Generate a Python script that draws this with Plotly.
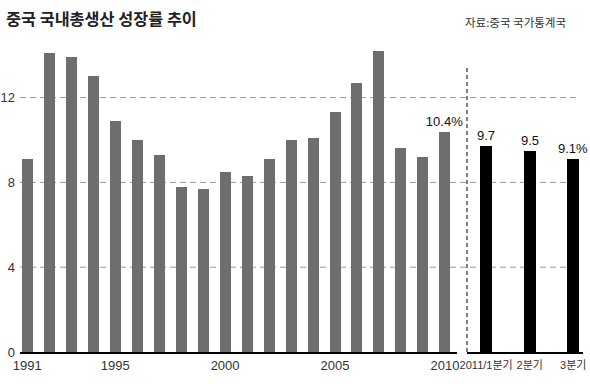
import plotly.graph_objects as go

years = [str(y) for y in range(1991, 2011)]
growth = [9.1, 14.1, 13.9, 13.0, 10.9, 10.0, 9.3, 7.8, 7.7, 8.5, 8.3, 9.1, 10.0, 10.1, 11.3, 12.7, 14.2, 9.6, 9.2, 10.4]
year_labels = ["" for _ in years[:-1]] + ["10.4%"]
year_ticks = ["1991", "1995", "2000", "2005", "2010"]

quarters = ["2011/1분기", "2분기", "3분기"]
q_growth = [9.7, 9.5, 9.1]
q_labels = ["9.7", "9.5", "9.1%"]

y_ticks = [0, 4, 8, 12]

W, H = 590, 384
T, B = 34, 32
PH = H - T - B
NUM = "Liberation Sans, Arial, Noto Sans CJK KR, sans-serif"

fig = go.Figure()
fig.add_trace(go.Bar(
    x=years, y=growth, xaxis="x", yaxis="y",
    marker=dict(color="#6e6e6e", line=dict(width=0)),
    width=0.5, text=year_labels, textposition="outside",
    constraintext="none", cliponaxis=False,
    textfont=dict(family=NUM, size=13, color="#111"),
    hoverinfo="x+y",
))
fig.add_trace(go.Bar(
    x=quarters, y=q_growth, xaxis="x2", yaxis="y",
    marker=dict(color="#000000", line=dict(width=0)),
    width=0.28, text=q_labels, textposition="outside",
    constraintext="none", cliponaxis=False,
    textfont=dict(family=NUM, size=13, color="#111"),
    hoverinfo="x+y",
))

# gridlines spanning both panels
for v in y_ticks[1:]:
    fig.add_shape(type="line", xref="paper", yref="y", x0=20 / W, x1=580 / W, y0=v, y1=v,
                  line=dict(color="#9a9a9a", width=1, dash="6px,4px"), layer="below")

# separator
fig.add_shape(type="line", xref="paper", yref="paper", x0=467 / W, x1=467 / W,
              y0=0, y1=(352 - 65) / PH,
              line=dict(color="#000", width=1, dash="4px,3px"), layer="above")

fig.update_layout(
    width=W, height=H,
    margin=dict(l=0, r=0, t=T, b=B),
    paper_bgcolor="white", plot_bgcolor="white",
    showlegend=False, bargap=0,
    font=dict(family=NUM, size=13, color="#333"),
    xaxis=dict(domain=[20 / W, 457 / W], type="category", range=[-0.33, 19.55],
               tickvals=year_ticks, ticktext=year_ticks, showgrid=False,
               showline=True, linecolor="#000", linewidth=1.5, ticks="", tickangle=0,
               ticklabelstandoff=1,
               tickfont=dict(family=NUM, size=13, color="#333"), anchor="y", automargin=False),
    xaxis2=dict(domain=[467 / W, 583 / W], type="category", range=[-0.44, 2.225],
                showgrid=False, showline=True, linecolor="#000", linewidth=1.5, ticks="",
                tickangle=0, ticklabelstandoff=2,
                tickfont=dict(family=NUM, size=11, color="#333"), anchor="y", automargin=False),
    yaxis=dict(range=[0, 15], tickvals=y_ticks, showgrid=False, zeroline=False,
               showline=False, ticks="", ticklabelstandoff=4,
               tickfont=dict(family=NUM, size=13, color="#333"),
               automargin=False),
    annotations=[
        dict(text="<b>중국 국내총생산 성장률 추이</b>", xref="paper", yref="paper",
             x=4 / W, y=1 + (T - 18) / PH, xanchor="left", yanchor="middle", showarrow=False,
             font=dict(family="Noto Sans CJK KR, sans-serif", size=16.3, color="#222")),
        dict(text="자료:중국 국가통계국", xref="paper", yref="paper",
             x=568 / W, y=1 + (T - 22) / PH, xanchor="right", yanchor="middle", showarrow=False,
             font=dict(family="Noto Sans CJK KR, sans-serif", size=11.5, color="#333")),
    ],
)

fig.write_html("out.html", config={"displayModeBar": False},
               post_script="document.body.style.margin='0';")
